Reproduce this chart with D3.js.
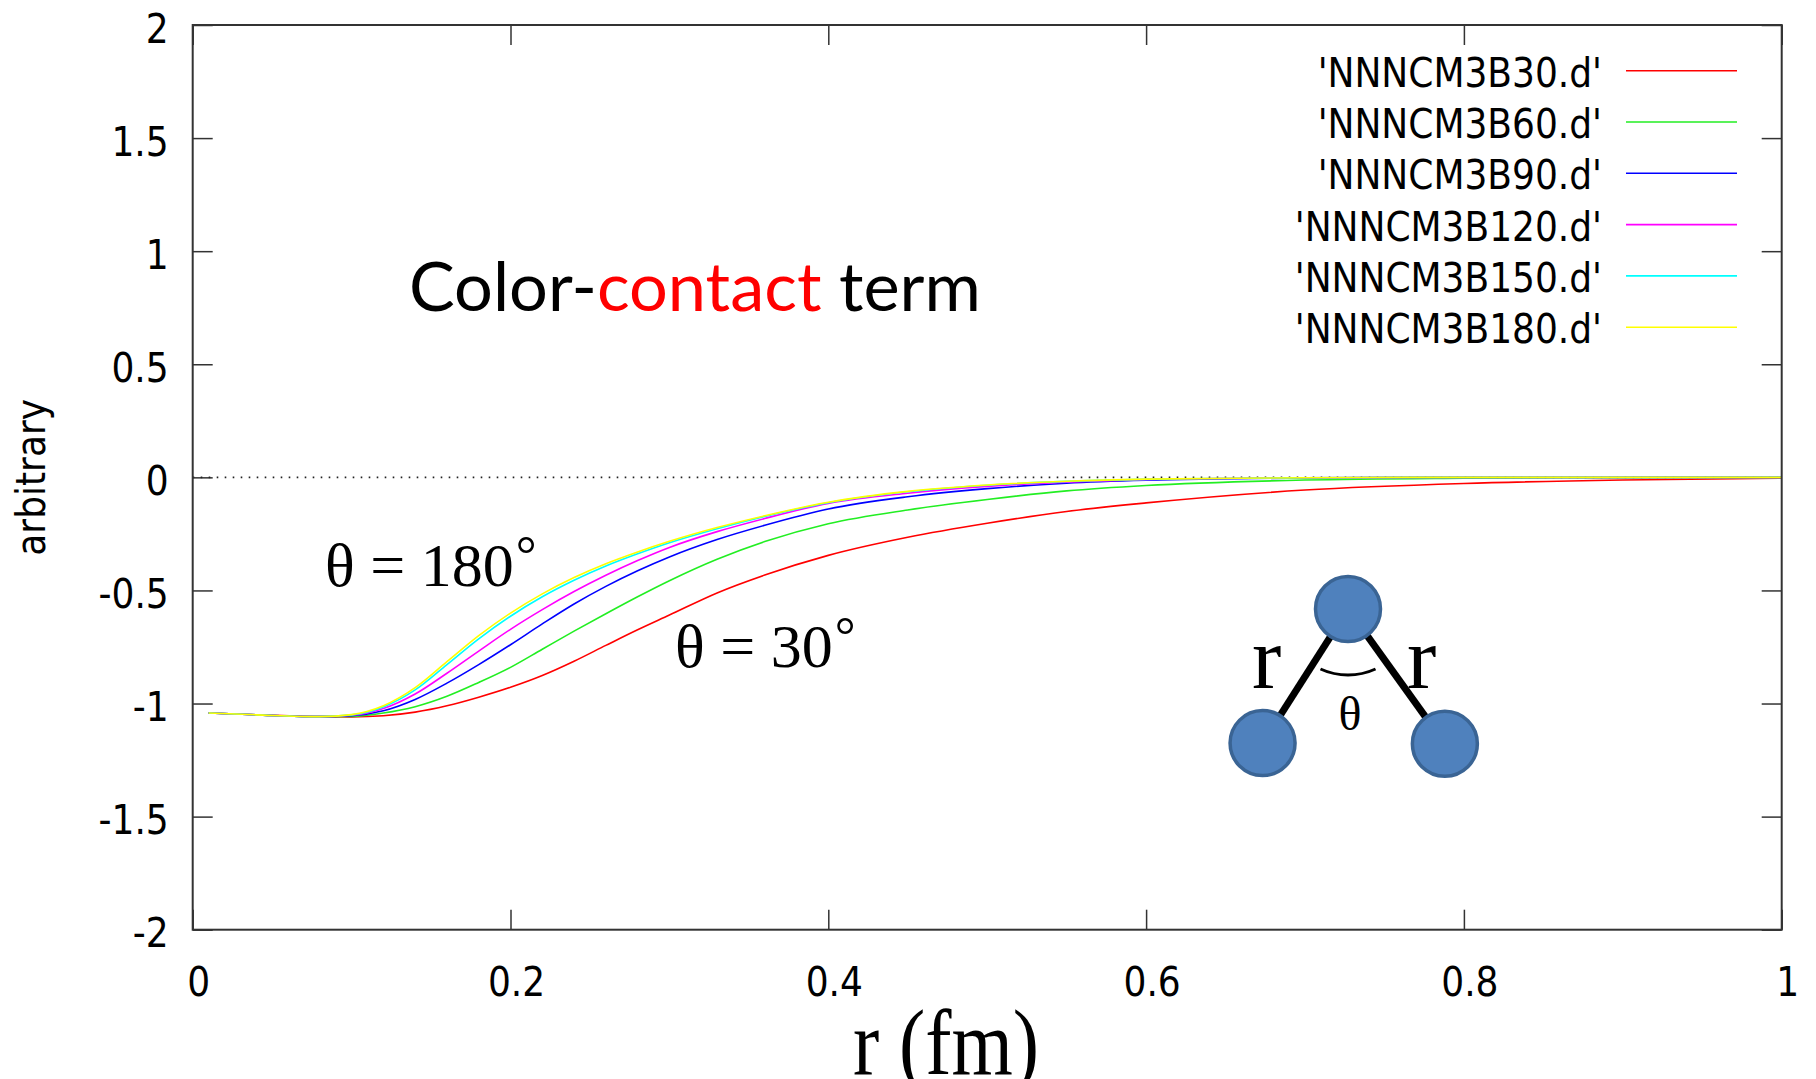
<!DOCTYPE html>
<html>
<head>
<meta charset="utf-8">
<script src="https://cdn.jsdelivr.net/npm/d3@7"></script>
<style>
  html, body { margin: 0; padding: 0; background: #ffffff; }
  svg { display: block; }
</style>
</head>
<body>
<svg id="chart" width="1816" height="1079"></svg>
<script>
// Radial grid (fm) shared by all six files
const rValues = [0.01, 0.04, 0.08, 0.10, 0.12, 0.14, 0.16, 0.18, 0.20, 0.22, 0.24, 0.26, 0.28,
                 0.30, 0.33, 0.36, 0.40, 0.45, 0.50, 0.55, 0.60, 0.70, 0.80, 0.90, 1.00];

// Potential values for each opening angle theta
const valuesB30  = [-1.042, -1.050, -1.058, -1.059, -1.054, -1.038, -1.010, -0.972, -0.928, -0.876, -0.813, -0.743, -0.674,
                    -0.609, -0.511, -0.432, -0.345, -0.265, -0.203, -0.151, -0.113, -0.056, -0.027, -0.012, -0.004];
const valuesB60  = [-1.042, -1.050, -1.058, -1.057, -1.042, -1.014, -0.968, -0.907, -0.840, -0.760, -0.680, -0.603, -0.528,
                    -0.457, -0.362, -0.284, -0.205, -0.144, -0.098, -0.060, -0.036, -0.012, -0.004, -0.001, 0.000];
const valuesB90  = [-1.042, -1.050, -1.058, -1.054, -1.032, -0.982, -0.910, -0.828, -0.740, -0.648, -0.560, -0.482, -0.413,
                    -0.352, -0.275, -0.212, -0.140, -0.086, -0.050, -0.026, -0.013, -0.003, 0.000, 0.000, 0.000];
const valuesB120 = [-1.042, -1.050, -1.058, -1.052, -1.022, -0.958, -0.866, -0.768, -0.672, -0.585, -0.505, -0.433, -0.368,
                    -0.310, -0.240, -0.182, -0.115, -0.070, -0.040, -0.021, -0.010, -0.002, 0.000, 0.000, 0.000];
const valuesB150 = [-1.042, -1.050, -1.058, -1.050, -1.015, -0.940, -0.828, -0.714, -0.614, -0.528, -0.455, -0.392, -0.338,
                    -0.289, -0.227, -0.173, -0.112, -0.064, -0.035, -0.018, -0.009, -0.002, 0.000, 0.000, 0.000];
const valuesB180 = [-1.042, -1.050, -1.058, -1.049, -1.010, -0.930, -0.815, -0.700, -0.600, -0.515, -0.443, -0.382, -0.330,
                    -0.283, -0.222, -0.170, -0.110, -0.062, -0.034, -0.017, -0.008, -0.002, 0.000, 0.000, 0.000];

const seriesNames  = ["'NNNCM3B30.d'", "'NNNCM3B60.d'", "'NNNCM3B90.d'",
                      "'NNNCM3B120.d'", "'NNNCM3B150.d'", "'NNNCM3B180.d'"];
const seriesColors = ["#ff0000", "#22ee22", "#0000ff", "#ff00ff", "#00ffff", "#ffff00"];

const xTickValues = [0, 0.2, 0.4, 0.6, 0.8, 1];
const xTickLabels = ["0", "0.2", "0.4", "0.6", "0.8", "1"];
const yTickValues = [-2, -1.5, -1, -0.5, 0, 0.5, 1, 1.5, 2];
const yTickLabels = ["-2", "-1.5", "-1", "-0.5", "0", "0.5", "1", "1.5", "2"];

const xDomain = [0, 1];
const yDomain = [-2, 2];

// ---- layout ----
const plot = { left: 192.7, right: 1781.7, top: 25, bottom: 929.7 };
const tickFont = "'DejaVu Sans Condensed', 'DejaVu Sans', sans-serif";
const tickSize = "40px";

const svg = d3.select("#chart");
const x = d3.scaleLinear().domain(xDomain).range([plot.left, plot.right]);
const y = d3.scaleLinear().domain(yDomain).range([plot.bottom, plot.top]);

const allSeries = [valuesB30, valuesB60, valuesB90, valuesB120, valuesB150, valuesB180].map((vals, i) => ({
  name: seriesNames[i],
  color: seriesColors[i],
  points: rValues.map((r, j) => [r, vals[j]])
}));

// ---- axes: inward ticks on all four sides ----
function styleAxis(g) {
  g.select(".domain").remove();
  g.selectAll(".tick line").attr("stroke", "#333").attr("stroke-width", 1.5);
  g.selectAll("text").attr("fill", "#000").style("font-family", tickFont)
    .style("font-size", tickSize).style("font-stretch", "condensed");
}

svg.append("g")
  .attr("transform", `translate(${plot.left},0)`)
  .call(d3.axisLeft(y).tickValues(yTickValues).tickSize(-20).tickPadding(24)
        .tickFormat((d, i) => yTickLabels[i]))
  .call(styleAxis)
  .call(g => g.selectAll("text").attr("dy", 17));

svg.append("g")
  .attr("transform", `translate(${plot.right},0)`)
  .call(d3.axisRight(y).tickValues(yTickValues).tickSize(-20).tickFormat(""))
  .call(styleAxis);

svg.append("g")
  .attr("transform", `translate(0,${plot.bottom})`)
  .call(d3.axisBottom(x).tickValues(xTickValues).tickSize(-20)
        .tickFormat((d, i) => xTickLabels[i]))
  .call(styleAxis)
  .call(g => g.selectAll("text").attr("y", 66).attr("dy", 0).attr("x", 5.5));

svg.append("g")
  .attr("transform", `translate(0,${plot.top})`)
  .call(d3.axisTop(x).tickValues(xTickValues).tickSize(-20).tickFormat(""))
  .call(styleAxis);

// zero reference line
svg.append("line")
  .attr("x1", x(xDomain[0])).attr("x2", x(xDomain[1]))
  .attr("y1", y(0)).attr("y2", y(0))
  .attr("stroke", "#222").attr("stroke-width", 1.6)
  .attr("stroke-dasharray", "1.6,6.4");

// ---- curves ----
const line = d3.line().x(d => x(d[0])).y(d => y(d[1])).curve(d3.curveMonotoneX);
svg.append("g").selectAll("path")
  .data(allSeries)
  .join("path")
  .attr("d", d => line(d.points))
  .attr("fill", "none")
  .attr("stroke", d => d.color)
  .attr("stroke-width", 1.6);

// frame
svg.append("rect")
  .attr("x", plot.left).attr("y", plot.top)
  .attr("width", plot.right - plot.left).attr("height", plot.bottom - plot.top)
  .attr("fill", "none").attr("stroke", "#333").attr("stroke-width", 2);

// ---- legend ----
const legend = { textRight: 1602, lineX1: 1626, lineX2: 1737, firstY: 70.7, step: 51.3 };
const lg = svg.append("g").selectAll("g")
  .data(allSeries)
  .join("g")
  .attr("transform", (d, i) => `translate(0,${legend.firstY + i * legend.step})`);
lg.append("text")
  .attr("x", legend.textRight).attr("y", 16)
  .attr("text-anchor", "end")
  .style("font-family", tickFont).style("font-size", tickSize).style("font-stretch", "condensed")
  .text(d => d.name);
lg.append("line")
  .attr("x1", legend.lineX1).attr("x2", legend.lineX2)
  .attr("stroke", d => d.color).attr("stroke-width", 1.6);

// ---- axis titles ----
svg.append("text")
  .attr("transform", `translate(45,${y(0)}) rotate(-90)`)
  .attr("text-anchor", "middle")
  .style("font-family", tickFont).style("font-size", tickSize).style("font-stretch", "condensed")
  .text("arbitrary");

svg.append("text")
  .attr("x", 853).attr("y", 1074)
  .attr("textLength", 186).attr("lengthAdjust", "spacingAndGlyphs")
  .style("font-family", "'Liberation Serif', 'Times New Roman', serif")
  .style("font-size", "94px")
  .text("r (fm)");

// ---- annotations ----
const title = svg.append("text")
  .attr("x", 409).attr("y", 311)
  .style("font-family", "Lato, 'Open Sans', sans-serif")
  .style("font-size", "68.5px");
title.append("tspan").attr("fill", "#000").text("Color-");
title.append("tspan").attr("fill", "#ff0000").text("contact");
title.append("tspan").attr("fill", "#000").text(" term");

const serif = "'Liberation Serif', 'Times New Roman', serif";
function thetaLabel(xPos, yPos, angle) {
  const t = svg.append("text").attr("x", xPos).attr("y", yPos)
    .style("font-family", serif).style("font-size", "62px");
  t.append("tspan").text(`θ = ${angle}`);
  t.append("tspan").attr("dx", 2).attr("dy", -14).style("font-size", "52px").text("°");
}
thetaLabel(325, 586, 180);
thetaLabel(675, 667, 30);

// ---- three-body geometry sketch ----
const sketch = { cx: 1348, cy: 609, atomR: 32.5, arcR: 66 };
const bonds = [ { len: 159, angle: -32.5 }, { len: 166, angle: 35.7 } ];
const atoms = [[sketch.cx, sketch.cy]].concat(bonds.map(b => {
  const a = b.angle * Math.PI / 180;
  return [sketch.cx + b.len * Math.sin(a), sketch.cy + b.len * Math.cos(a)];
}));
const sk = svg.append("g");
[1, 2].forEach(k => {
  const [x0, y0] = atoms[0], [x1, y1] = atoms[k];
  const dx = x1 - x0, dy = y1 - y0, len = Math.hypot(dx, dy);
  const ux = dx / len, uy = dy / len;
  sk.append("line")
    .attr("x1", x0 + ux * (sketch.atomR - 4)).attr("y1", y0 + uy * (sketch.atomR - 4))
    .attr("x2", x1 - ux * (sketch.atomR + 1)).attr("y2", y1 - uy * (sketch.atomR + 1))
    .attr("stroke", "#000").attr("stroke-width", 7);
});
sk.append("path")
  .attr("transform", `translate(${sketch.cx},${sketch.cy})`)
  .attr("d", d3.arc().innerRadius(sketch.arcR).outerRadius(sketch.arcR)
               .startAngle(Math.PI - 0.43).endAngle(Math.PI + 0.43)())
  .attr("fill", "none").attr("stroke", "#000").attr("stroke-width", 3);
sk.selectAll("circle")
  .data(atoms)
  .join("circle")
  .attr("cx", d => d[0]).attr("cy", d => d[1]).attr("r", sketch.atomR)
  .attr("fill", "#4f81bd").attr("stroke", "#3a6494").attr("stroke-width", 3.5);
sk.append("text").attr("x", 1252).attr("y", 688)
  .style("font-family", serif).style("font-size", "88px").text("r");
sk.append("text").attr("x", 1407).attr("y", 688)
  .style("font-family", serif).style("font-size", "88px").text("r");
sk.append("text").attr("x", 1350).attr("y", 730).attr("text-anchor", "middle")
  .style("font-family", serif).style("font-size", "48px").text("θ");
</script>
</body>
</html>
